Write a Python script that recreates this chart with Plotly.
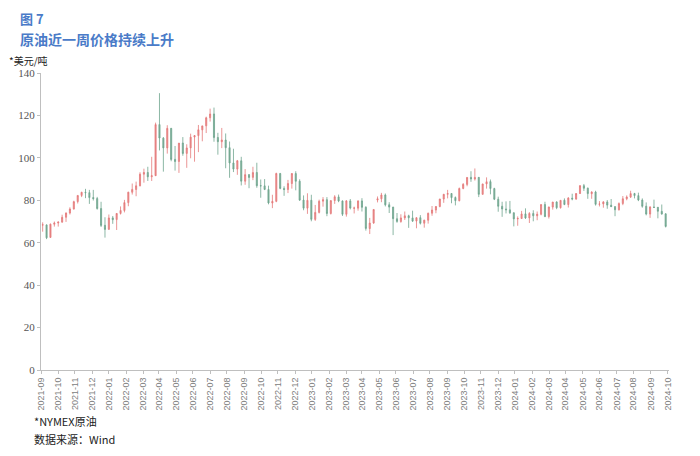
import pandas as pd
import plotly.graph_objects as go

# Weekly NYMEX crude (week ending Friday), Aug 2021 - Sep 2024
week_end_first = "2021-08-13"

open_ = [
    # 2021
    68.3, 68.4, 62.5, 68.7, 69.3, 69.7, 72.0, 74.0, 75.9, 79.4, 82.3, 83.8, 83.6, 81.3, 80.8, 76.1, 68.2, 66.3, 71.7, 70.9, 73.8,
    # 2022
    75.2, 78.9, 83.8, 85.1, 86.8, 92.3, 93.1, 91.1, 91.6, 115.7, 109.3, 104.7, 113.9, 99.3, 98.3, 107.0, 102.1, 104.7, 109.8, 110.5,
    113.2, 115.1, 118.9, 120.7, 109.6, 107.6, 108.4, 104.8, 97.6, 94.7, 98.6, 89.0, 92.1, 90.8, 93.1, 86.9, 86.8, 85.1, 78.7, 79.5,
    92.6, 85.6, 85.1, 87.9, 92.6, 89.0, 80.1, 76.3, 80.0, 71.0, 74.3, 79.6,
    # 2023
    80.3, 73.8, 79.9, 81.6, 79.7, 73.4, 79.7, 76.3, 76.3, 79.7, 76.7, 66.7, 69.3, 80.1, 80.7, 82.5, 77.9, 76.8, 71.3, 70.0,
    71.7, 72.7, 71.7, 70.2, 71.8, 69.2, 70.6, 73.9, 75.4, 77.1, 80.6, 82.8, 83.2, 81.3, 79.8, 85.6, 87.5, 90.8, 90.0, 90.8,
    82.8, 87.7, 88.8, 85.5, 80.5, 77.2, 75.9, 75.5, 74.1, 71.2, 71.4, 73.6,
    # 2024
    71.7, 73.8, 72.7, 73.4, 78.0, 72.3, 76.8, 79.2, 76.5, 80.0, 78.0, 81.0, 80.6, 83.2, 86.9, 85.7, 83.1, 83.9, 78.1, 78.3,
    79.2, 77.7, 77.0, 75.5, 78.5, 80.7, 81.5, 83.2, 82.2, 80.1, 77.2, 73.5, 76.8, 76.7, 74.8, 73.6,
]
high = [
    # 2021
    69.6, 68.6, 69.0, 70.0, 70.0, 73.2, 74.3, 76.7, 79.8, 82.3, 84.0, 85.4, 84.9, 84.9, 81.6, 79.3, 72.0, 73.3, 72.6, 74.0, 77.1,
    # 2022
    80.2, 84.0, 87.9, 88.8, 93.2, 94.9, 95.8, 100.5, 116.6, 130.5, 109.8, 115.4, 114.1, 105.6, 107.0, 109.8, 106.4, 111.4, 110.7, 115.5,
    115.1, 119.4, 123.2, 123.7, 111.8, 114.1, 111.5, 107.7, 104.3, 99.0, 100.5, 94.7, 92.2, 95.8, 97.7, 89.8, 90.0, 86.9, 82.6, 93.0,
    92.9, 86.6, 89.6, 92.8, 93.7, 89.9, 82.3, 83.3, 82.6, 77.8, 80.3, 81.5,
    # 2023
    81.5, 79.9, 82.4, 82.7, 79.9, 80.1, 80.6, 77.0, 80.0, 81.0, 77.2, 71.7, 75.7, 81.8, 83.5, 83.2, 79.1, 76.9, 74.0, 73.4,
    74.7, 73.2, 75.1, 72.0, 73.0, 70.8, 74.2, 77.3, 77.3, 80.7, 83.0, 84.9, 83.3, 81.8, 86.0, 88.1, 90.9, 93.7, 95.0, 90.9,
    87.8, 90.8, 89.8, 85.9, 81.7, 79.3, 79.5, 79.7, 74.3, 72.4, 75.0, 76.2,
    # 2024
    74.4, 75.3, 74.7, 78.0, 79.3, 77.0, 79.2, 79.5, 80.0, 80.9, 81.5, 83.1, 83.4, 87.1, 87.7, 86.0, 84.3, 84.5, 79.6, 79.6,
    80.1, 80.6, 77.3, 79.0, 82.0, 82.3, 84.5, 83.5, 83.6, 80.9, 79.0, 77.2, 80.3, 76.8, 78.0, 73.9,
]
low = [
    # 2021
    65.2, 61.7, 62.4, 67.6, 67.6, 69.5, 69.8, 73.3, 75.6, 78.5, 81.5, 81.0, 78.3, 79.9, 75.6, 67.4, 62.4, 66.1, 68.9, 66.0, 73.3,
    # 2022
    74.3, 77.2, 82.7, 81.9, 86.6, 88.3, 89.1, 89.1, 92.0, 103.5, 93.5, 102.0, 98.4, 94.0, 92.9, 101.0, 95.3, 99.8, 98.2, 102.7,
    107.8, 111.7, 117.1, 107.6, 101.5, 104.6, 95.1, 90.6, 93.3, 92.0, 87.0, 87.3, 85.7, 89.5, 85.9, 81.2, 84.8, 78.1, 76.3, 79.1,
    85.2, 82.1, 83.4, 85.5, 84.7, 79.7, 75.3, 73.6, 70.1, 70.3, 73.8, 77.0,
    # 2023
    72.5, 73.3, 78.3, 79.1, 72.6, 72.3, 75.7, 73.8, 75.1, 74.7, 65.7, 64.1, 68.9, 79.0, 79.1, 77.1, 74.0, 63.6, 69.4, 69.4,
    70.7, 67.0, 69.9, 66.8, 68.6, 67.1, 69.0, 72.7, 73.9, 76.7, 78.8, 80.9, 78.6, 77.6, 79.5, 85.2, 86.6, 88.7, 89.3, 81.5,
    82.7, 85.5, 82.8, 80.1, 74.6, 72.2, 73.8, 73.6, 67.7, 68.0, 71.3, 71.2,
    # 2024
    69.3, 70.1, 70.6, 72.9, 72.3, 71.4, 75.6, 75.8, 76.1, 77.7, 76.6, 80.0, 80.2, 83.0, 84.4, 80.7, 80.7, 77.5, 77.1, 76.5,
    76.0, 76.9, 72.5, 75.2, 77.7, 80.0, 81.1, 80.9, 79.6, 76.5, 72.9, 71.7, 76.4, 71.5, 73.2, 67.2,
]
close = [
    # 2021
    68.44, 62.32, 68.74, 69.29, 69.72, 71.97, 73.98, 75.88, 79.35, 82.28, 83.76, 83.57, 81.27, 80.79, 76.10, 68.15, 66.26, 71.67, 70.86, 73.79, 75.21,
    # 2022
    78.90, 83.82, 85.14, 86.82, 92.31, 93.10, 91.07, 91.59, 115.68, 109.33, 104.70, 113.90, 99.27, 98.26, 106.95, 102.07, 104.69, 109.77, 110.49, 113.23,
    115.07, 118.87, 120.67, 109.56, 107.62, 108.43, 104.79, 97.59, 94.70, 98.62, 89.01, 92.09, 90.77, 93.06, 86.87, 86.79, 85.11, 78.74, 79.49, 92.64,
    85.61, 85.05, 87.90, 92.61, 88.96, 80.08, 76.28, 79.98, 71.02, 74.29, 79.56, 80.26,
    # 2023
    73.77, 79.86, 81.64, 79.68, 73.39, 79.72, 76.34, 76.32, 79.68, 76.68, 66.74, 69.26, 75.67, 80.70, 82.52, 77.87, 76.78, 71.34, 70.04, 71.69,
    72.67, 71.74, 70.17, 71.78, 69.16, 70.64, 73.86, 75.42, 77.07, 80.58, 82.82, 83.19, 81.25, 79.83, 85.55, 87.51, 90.77, 90.03, 90.79, 82.79,
    87.69, 88.75, 85.54, 80.51, 77.17, 75.89, 75.54, 74.07, 71.23, 71.43, 73.56, 71.65,
    # 2024
    73.81, 72.68, 73.41, 78.01, 72.28, 76.84, 79.19, 76.49, 79.97, 78.01, 81.04, 80.63, 83.17, 86.91, 85.66, 83.14, 83.85, 78.11, 78.26, 79.23,
    77.72, 76.99, 75.53, 78.45, 80.73, 81.54, 83.16, 82.21, 80.13, 77.16, 73.52, 76.84, 76.65, 74.83, 73.55, 67.67,
]

tick_dates = [f"{y}-{m:02d}-10" for y, m in
              [(2021, 8), (2021, 9), (2021, 10), (2021, 11), (2021, 12)] +
              [(2022, m) for m in range(1, 13)] +
              [(2023, m) for m in range(1, 13)] +
              [(2024, m) for m in range(1, 10)]]
tick_labels = [
    "2021-09", "2021-10", "2021-11", "2021-12",
    "2022-01", "2022-02", "2022-03", "2022-04", "2022-05", "2022-06", "2022-07", "2022-08",
    "2022-09", "2022-10", "2022-11", "2022-12",
    "2023-01", "2023-02", "2023-03", "2023-04", "2023-05", "2023-06", "2023-07", "2023-08",
    "2023-09", "2023-10", "2023-11", "2023-12",
    "2024-01", "2024-02", "2024-03", "2024-04", "2024-05", "2024-06", "2024-07", "2024-08",
    "2024-09", "2024-10",
]

n = len(close)
assert len(open_) == n and len(high) == n and len(low) == n, (len(open_), len(high), len(low), n)
weeks = pd.date_range(start=week_end_first, periods=n, freq="W-FRI")

fig = go.Figure()
fig.add_trace(go.Candlestick(
    x=weeks, open=open_, high=high, low=low, close=close,
    increasing=dict(line=dict(color="#E57A7A", width=0.8), fillcolor="#E98A8A"),
    decreasing=dict(line=dict(color="#6FA58E", width=0.8), fillcolor="#7DAE98"),
    whiskerwidth=0,
    showlegend=False,
))

blue = "#4A7BC8"
cjk = "Noto Sans CJK SC"
fig.update_layout(
    width=700, height=456,
    margin=dict(l=41, r=31, t=73, b=86),
    paper_bgcolor="white", plot_bgcolor="white",
    boxgap=0.6,
    font=dict(family=cjk, color="#333333"),
    xaxis=dict(
        type="date",
        range=["2021-08-10", "2024-09-12"],
        rangeslider=dict(visible=False),
        tickmode="array", tickvals=tick_dates, ticktext=tick_labels,
        tickangle=-90,
        tickfont=dict(family="Liberation Sans", size=9, color="#808080"),
        showgrid=False, zeroline=False,
        showline=True, linecolor="#BFBFBF", linewidth=1,
        ticks="outside", ticklen=3, tickcolor="#BFBFBF",
    ),
    yaxis=dict(
        range=[0, 140], dtick=20, tick0=0,
        tickfont=dict(family="Liberation Serif", size=11, color="#555555"),
        showgrid=False, zeroline=False,
        showline=True, linecolor="#BFBFBF", linewidth=1,
        ticks="outside", ticklen=3, tickcolor="#BFBFBF",
    ),
    annotations=[
        dict(text="<b>图 7</b>", x=18, y=456 - 18, xref="paper", yref="paper",
             showarrow=False, xanchor="left", yanchor="middle",
             font=dict(family=cjk, size=13, color=blue)),
        dict(text="<b>原油近一周价格持续上升</b>", x=18, y=456 - 39, xref="paper", yref="paper",
             showarrow=False, xanchor="left", yanchor="middle",
             font=dict(family=cjk, size=14, color=blue)),
        dict(text="*美元/吨", x=7, y=456 - 61, xref="paper", yref="paper",
             showarrow=False, xanchor="left", yanchor="middle",
             font=dict(family=cjk, size=10, color="#222222")),
        dict(text="*NYMEX原油", x=32, y=456 - 421, xref="paper", yref="paper",
             showarrow=False, xanchor="left", yanchor="middle",
             font=dict(family=cjk, size=11, color="#222222")),
        dict(text="数据来源：Wind", x=32, y=456 - 439, xref="paper", yref="paper",
             showarrow=False, xanchor="left", yanchor="middle",
             font=dict(family=cjk, size=11, color="#222222")),
    ],
)

# convert pixel-based annotation positions to paper coordinates
pw, ph = 700 - 41 - 31, 456 - 73 - 86
for a in fig.layout.annotations:
    a.x = (a.x - 41) / pw
    a.y = (a.y - 86) / ph

fig.write_html("out.html")
